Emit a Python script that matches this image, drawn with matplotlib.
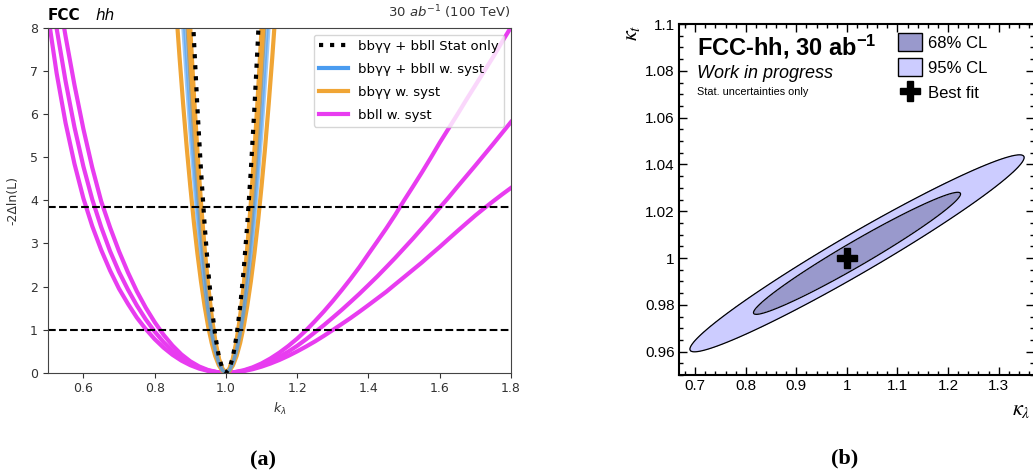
import numpy as np
import matplotlib.pyplot as plt
from matplotlib.lines import Line2D
from matplotlib.patches import Patch
from matplotlib.ticker import MultipleLocator, FuncFormatter

# fonts for the Mathematica-style panel (b)
plt.rcParams['mathtext.rm'] = 'Liberation Sans'
plt.rcParams['mathtext.bf'] = 'Liberation Sans:bold'
plt.rcParams['mathtext.it'] = 'Liberation Sans:italic'

# ---- panel (a): -2 Delta ln L scans ----
kl_wide = [0.500, 0.525, 0.550, 0.575, 0.600, 0.625, 0.650, 0.675, 0.700, 0.725,
           0.750, 0.775, 0.800, 0.825, 0.850, 0.875, 0.900, 0.925, 0.950, 0.975,
           1.000, 1.025, 1.050, 1.075, 1.100, 1.125, 1.150, 1.175, 1.200, 1.225,
           1.250, 1.275, 1.300, 1.325, 1.350, 1.375, 1.400, 1.425, 1.450, 1.475,
           1.500, 1.525, 1.550, 1.575, 1.600, 1.625, 1.650, 1.675, 1.700, 1.725,
           1.750, 1.775, 1.800]
bbll_syst_1 = [10.40, 9.04, 7.81, 6.68, 5.66, 4.76, 3.98, 3.37, 2.82, 2.33,
               1.89, 1.51, 1.175, 0.880, 0.632, 0.426, 0.265, 0.145, 0.0625, 0.0153,
               0.0, 0.0147, 0.0576, 0.125, 0.216, 0.331, 0.466, 0.620, 0.792, 0.984,
               1.199, 1.424, 1.664, 1.917, 2.18, 2.457, 2.756, 3.051, 3.35, 3.664,
               4.0, 4.322, 4.65, 4.99, 5.34, 5.67, 6.0, 6.34, 6.67, 7.0,
               7.33, 7.68, 8.02]
bbll_syst_2 = [9.46, 7.99, 6.77, 5.70, 4.79, 4.02, 3.38, 2.82, 2.34, 1.93,
               1.5625, 1.238, 0.956, 0.711, 0.508, 0.343, 0.213, 0.117, 0.051, 0.0124,
               0.0, 0.0115, 0.046, 0.103, 0.175, 0.264, 0.371, 0.49, 0.624, 0.776,
               0.94, 1.105, 1.28, 1.458, 1.645, 1.835, 2.035, 2.237, 2.45, 2.665,
               2.89, 3.115, 3.35, 3.585, 3.83, 4.07, 4.32, 4.565, 4.81, 5.06,
               5.31, 5.565, 5.82]
bbll_syst_3 = [8.35, 6.95, 5.80, 4.85, 4.05, 3.40, 2.85, 2.37, 1.95, 1.60,
               1.28, 1.014, 0.78, 0.582, 0.416, 0.281, 0.175, 0.0955, 0.041, 0.01,
               0.0, 0.0095, 0.037, 0.081, 0.141, 0.213, 0.296, 0.391, 0.496, 0.608,
               0.727, 0.856, 0.992, 1.13, 1.27, 1.418, 1.57, 1.725, 1.88, 2.051,
               2.22, 2.39, 2.56, 2.742, 2.92, 3.106, 3.29, 3.471, 3.65, 3.818,
               3.98, 4.138, 4.29]

kl_narrow = [0.86, 0.87, 0.88, 0.89, 0.90, 0.91, 0.92, 0.93, 0.94, 0.95,
             0.96, 0.97, 0.98, 0.99, 1.00, 1.01, 1.02, 1.03, 1.04, 1.05,
             1.06, 1.07, 1.08, 1.09, 1.10, 1.11, 1.12, 1.13, 1.14]
bbyy_syst_1 = [8.48, 7.31, 6.23, 5.23, 4.33, 3.50, 2.77, 2.12, 1.557, 1.08,
               0.692, 0.389, 0.173, 0.043, 0.0, 0.043, 0.173, 0.389, 0.692, 1.08,
               1.557, 2.12, 2.77, 3.50, 4.33, 5.23, 6.23, 7.31, 8.48]
bbyy_syst_2 = [13.8, 11.9, 10.1, 8.49, 7.02, 5.69, 4.49, 3.44, 2.527, 1.755,
               1.123, 0.632, 0.281, 0.070, 0.0, 0.070, 0.281, 0.632, 1.123, 1.755,
               2.527, 3.44, 4.49, 5.69, 7.02, 8.49, 10.1, 11.9, 13.8]
bbyy_syst_3 = [15.4, 13.2, 11.3, 9.49, 7.84, 6.35, 5.02, 3.84, 2.82, 1.96,
               1.254, 0.706, 0.314, 0.078, 0.0, 0.078, 0.314, 0.706, 1.254, 1.96,
               2.82, 3.84, 5.02, 6.35, 7.84, 9.49, 11.3, 13.2, 15.4]
comb_syst_1 = [10.8, 9.33, 7.95, 6.68, 5.52, 4.47, 3.53, 2.70, 1.99, 1.38,
               0.884, 0.497, 0.221, 0.055, 0.0, 0.055, 0.221, 0.497, 0.884, 1.38,
               1.99, 2.70, 3.53, 4.47, 5.52, 6.68, 7.95, 9.33, 10.8]
comb_syst_2 = [11.8, 10.1, 8.64, 7.26, 6.0, 4.86, 3.84, 2.94, 2.16, 1.5,
               0.96, 0.54, 0.24, 0.060, 0.0, 0.060, 0.24, 0.54, 0.96, 1.5,
               2.16, 2.94, 3.84, 4.86, 6.0, 7.26, 8.64, 10.1, 11.8]
comb_stat = [18.8, 16.2, 13.8, 11.6, 9.61, 7.78, 6.15, 4.71, 3.46, 2.40,
             1.54, 0.865, 0.384, 0.096, 0.0, 0.096, 0.384, 0.865, 1.54, 2.40,
             3.46, 4.71, 6.15, 7.78, 9.61, 11.6, 13.8, 16.2, 18.8]

cl_lines = [1.0, 3.84]
labels_a = ['bbγγ + bbll Stat only', 'bbγγ + bbll w. syst', 'bbγγ w. syst', 'bbll w. syst']

# ---- panel (b): 2D contours ----
best_fit = [1.0, 1.0]
contour_center = [1.02, 1.002]
sigma_kl = 0.135
sigma_kt = 0.0172
rho = 0.9726
cl_levels = [2.30, 5.99]
labels_b = ['68% CL', '95% CL', 'Best fit']
kl_ticks = [0.7, 0.8, 0.9, 1.0, 1.1, 1.2, 1.3]
kt_ticks = [0.96, 0.98, 1.0, 1.02, 1.04, 1.06, 1.08, 1.1]

c_blue = '#4a9cf0'
c_orange = '#f0a535'
c_magenta = '#e83cf0'

fig = plt.figure(figsize=(10.33, 4.73), dpi=100)

# Left panel
ax = fig.add_axes([0.0462, 0.212, 0.4485, 0.7288])
for y in [bbll_syst_1, bbll_syst_2, bbll_syst_3]:
    ax.plot(kl_wide, y, color=c_magenta, lw=3)
ax.plot(kl_narrow, bbyy_syst_1, color=c_orange, lw=3)
ax.plot(kl_narrow, bbyy_syst_2, color=c_orange, lw=3.5)
ax.plot(kl_narrow, bbyy_syst_3, color=c_orange, lw=3.5)
ax.plot(kl_narrow, comb_syst_1, color=c_blue, lw=2.5, alpha=0.55)
ax.plot(kl_narrow, comb_syst_2, color=c_blue, lw=2.5, alpha=0.55)
ax.plot(kl_narrow, comb_stat, color='k', lw=3, ls=':')
for c in cl_lines:
    ax.axhline(c, color='k', lw=1.5, ls='--')

ax.set_xlim(0.5, 1.8)
ax.set_ylim(0, 8)
ax.set_xticks([0.6, 0.8, 1.0, 1.2, 1.4, 1.6, 1.8])
ax.tick_params(labelsize=9, colors='#333333', length=3.5)
ax.set_xlabel(r'$k_\lambda$', fontsize=9, color='#333333')
ax.set_ylabel('-2Δln(L)', fontsize=9, color='#333333', labelpad=8)
for s in ax.spines.values():
    s.set_color('#444444')

handles_a = [Line2D([], [], color='k', lw=3, ls=':'),
             Line2D([], [], color=c_blue, lw=3),
             Line2D([], [], color=c_orange, lw=3),
             Line2D([], [], color=c_magenta, lw=3)]
ax.legend(handles_a, labels_a, loc='upper right', fontsize=9.5,
          labelspacing=0.75, handlelength=2.2)

ax.text(0.0, 1.023, 'FCC', transform=ax.transAxes, fontsize=11, fontweight='bold', va='baseline')
ax.text(0.102, 1.023, 'hh', transform=ax.transAxes, fontsize=11, style='italic', va='baseline')
ax.text(1.0, 1.032, r'30 $ab^{-1}$ (100 TeV)', transform=ax.transAxes, fontsize=9.5,
        ha='right', va='baseline', color='#333333')

# Right panel
ax2 = fig.add_axes([0.6573, 0.2072, 0.3437, 0.742])
xg, yg = np.meshgrid(np.linspace(0.6, 1.45, 700), np.linspace(0.94, 1.11, 700))
dx = (xg - contour_center[0]) / sigma_kl
dy = (yg - contour_center[1]) / sigma_kt
chi2 = (dx**2 - 2 * rho * dx * dy + dy**2) / (1 - rho**2)
ax2.contourf(xg, yg, chi2, levels=[0, cl_levels[0], cl_levels[1]], colors=['#9999cc', '#ccccff'])
ax2.contour(xg, yg, chi2, levels=cl_levels, colors='k', linewidths=0.9)
ax2.plot(best_fit[0], best_fit[1], marker='P', color='k', markersize=15, ls='None')

ax2.set_xlim(0.668, 1.37)
ax2.set_ylim(0.95, 1.1)
ax2.set_xticks(kl_ticks)
ax2.set_yticks(kt_ticks)
ax2.xaxis.set_minor_locator(MultipleLocator(0.02))
ax2.yaxis.set_minor_locator(MultipleLocator(0.005))
fmt = FuncFormatter(lambda v, p: f'{v:g}')
ax2.xaxis.set_major_formatter(fmt)
ax2.yaxis.set_major_formatter(fmt)
ax2.tick_params(which='both', direction='in', top=True, right=True, width=1)
ax2.tick_params(which='major', length=6, labelsize=11, pad=3)
ax2.tick_params(which='minor', length=3)
for lab in ax2.get_xticklabels() + ax2.get_yticklabels():
    lab.set_fontfamily('Liberation Sans')
for s in ax2.spines.values():
    s.set_linewidth(1.5)

handles_b = [Patch(facecolor='#9999cc', edgecolor='k', lw=1),
             Patch(facecolor='#ccccff', edgecolor='k', lw=1),
             Line2D([], [], marker='P', color='k', markersize=14, ls='None')]
ax2.legend(handles_b, labels_b, loc='upper left', bbox_to_anchor=(0.618, 0.974),
           frameon=False, borderpad=0, borderaxespad=0, handlelength=1.4, handleheight=1.25,
           handletextpad=0.4, labelspacing=0.45, prop={'family': 'Liberation Sans', 'size': 12})

fig.text(697 / 1033, 1 - 55 / 473, r'FCC-hh, 30 ab$^{\mathbf{-1}}$', fontsize=17,
         fontweight='bold', family='Liberation Sans', math_fontfamily='custom', va='baseline')
fig.text(697 / 1033, 1 - 78 / 473, 'Work in progress', fontsize=13, style='italic',
         family='Liberation Sans', va='baseline')
fig.text(697 / 1033, 1 - 95 / 473, 'Stat. uncertainties only', fontsize=7.8,
         family='Liberation Sans', va='baseline')
fig.text(632 / 1033, 1 - 33 / 473, r'$\kappa_t$', fontsize=16, rotation=90,
         math_fontfamily='stix', ha='center', va='center')
fig.text(1021 / 1033, 1 - 410 / 473, r'$\kappa_\lambda$', fontsize=16,
         math_fontfamily='stix', ha='center', va='center')

# sub-figure captions
fig.text(263 / 1033, 1 - 460 / 473, '(a)', fontsize=16, fontweight='bold',
         family='Liberation Serif', ha='center', va='center')
fig.text(845 / 1033, 1 - 458 / 473, '(b)', fontsize=16, fontweight='bold',
         family='Liberation Serif', ha='center', va='center')

fig.savefig('out.png', dpi=100)
